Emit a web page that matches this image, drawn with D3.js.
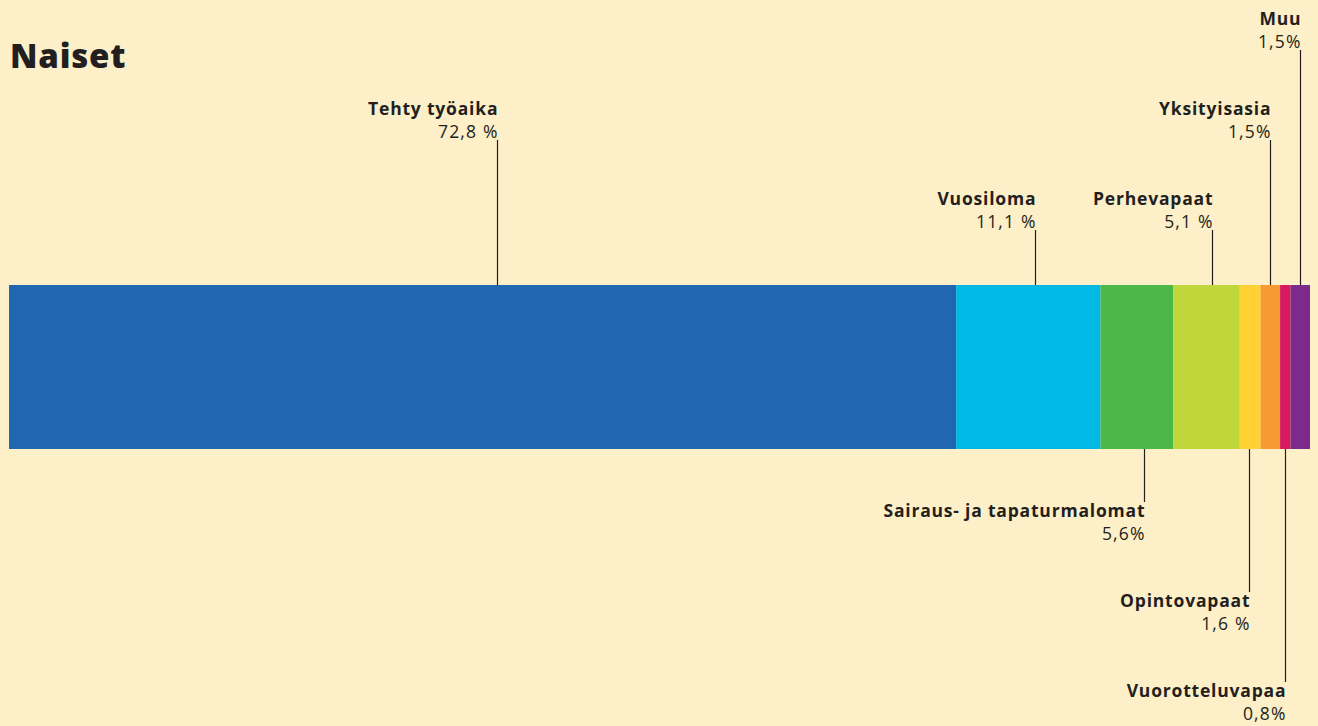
<!DOCTYPE html>
<html>
<head>
<meta charset="utf-8">
<script src="https://cdn.jsdelivr.net/npm/d3@7"></script>
<style>
  html, body { margin: 0; padding: 0; background: #fdefc7; }
  svg { display: block; }
  text { fill: #231f20; font-family: "Open Sans", "Lato", sans-serif; }
</style>
</head>
<body>
<svg width="1318" height="726"></svg>
<script>
const categories = ["Tehty työaika", "Vuosiloma", "Sairaus- ja tapaturmalomat", "Perhevapaat",
                    "Opintovapaat", "Yksityisasia", "Vuorotteluvapaa", "Muu"];
const values = [72.8, 11.1, 5.6, 5.1, 1.6, 1.5, 0.8, 1.5];
const valueLabels = ["72,8 %", "11,1 %", "5,6%", "5,1 %", "1,6 %", "1,5%", "0,8%", "1,5%"];
const colors = ["#2067b0", "#00b9e4", "#4db848", "#bfd73b", "#ffd133", "#f89a34", "#d81b60", "#7c2b8c"];

// label placement: side of bar, tier away from the bar, where the leader hits the segment
const sides = ["top", "top", "bottom", "top", "bottom", "top", "bottom", "top"];
const tiers = [1, 0, 0, 0, 1, 1, 2, 2];
const anchors = [0.515, 0.547, 0.6, 0.58, 0.45, 0.48, 0.45, 0.5];

const svg = d3.select("svg");
const barTop = 285, barBottom = 449;

let acc = 0;
const segs = values.map(function(v, i) {
    const s = {name: categories[i], value: v, label: valueLabels[i], color: colors[i],
               start: acc, end: acc + v, side: sides[i], tier: tiers[i], anchor: anchors[i]};
    acc += v;
    return s;
});

const x = d3.scaleLinear().domain([0, d3.sum(values)]).range([9, 1310]);

svg.append("text")
    .attr("x", 10).attr("y", 68)
    .style("font-size", "33px").style("font-weight", 800)
    .style("letter-spacing", "0.8px")
    .text("Naiset");

svg.selectAll("rect.seg").data(segs)
    .enter().append("rect")
    .attr("class", "seg")
    .attr("x", d => x(d.start))
    .attr("y", barTop)
    .attr("width", d => x(d.end) - x(d.start))
    .attr("height", barBottom - barTop)
    .attr("fill", d => d.color);

function nameY(d) {
    return d.side === "top" ? 205 - d.tier * 90 : 517 + d.tier * 90;
}
function lineX(d) {
    return Math.round(x(d.start + d.value * d.anchor)) + 0.5;
}

const labels = svg.selectAll("g.lab").data(segs)
    .enter().append("g")
    .attr("class", "lab");

labels.append("line")
    .attr("x1", lineX).attr("x2", lineX)
    .attr("y1", d => d.side === "top" ? nameY(d) + 25 : barBottom)
    .attr("y2", d => d.side === "top" ? barTop : nameY(d) - 15)
    .attr("stroke", "#231f20")
    .attr("stroke-width", 1.2);

// letter-spacing adds trailing space after the last glyph, so nudge right by it
labels.append("text")
    .attr("x", d => lineX(d) + 0.8)
    .attr("y", nameY)
    .attr("text-anchor", "end")
    .style("font-size", "17.5px").style("font-weight", 700)
    .style("letter-spacing", "0.8px")
    .text(d => d.name);

labels.append("text")
    .attr("x", d => lineX(d) + 1.2)
    .attr("y", d => nameY(d) + 23)
    .attr("text-anchor", "end")
    .style("font-size", "17.5px")
    .style("letter-spacing", "1.2px")
    .text(d => d.label);
</script>
</body>
</html>
